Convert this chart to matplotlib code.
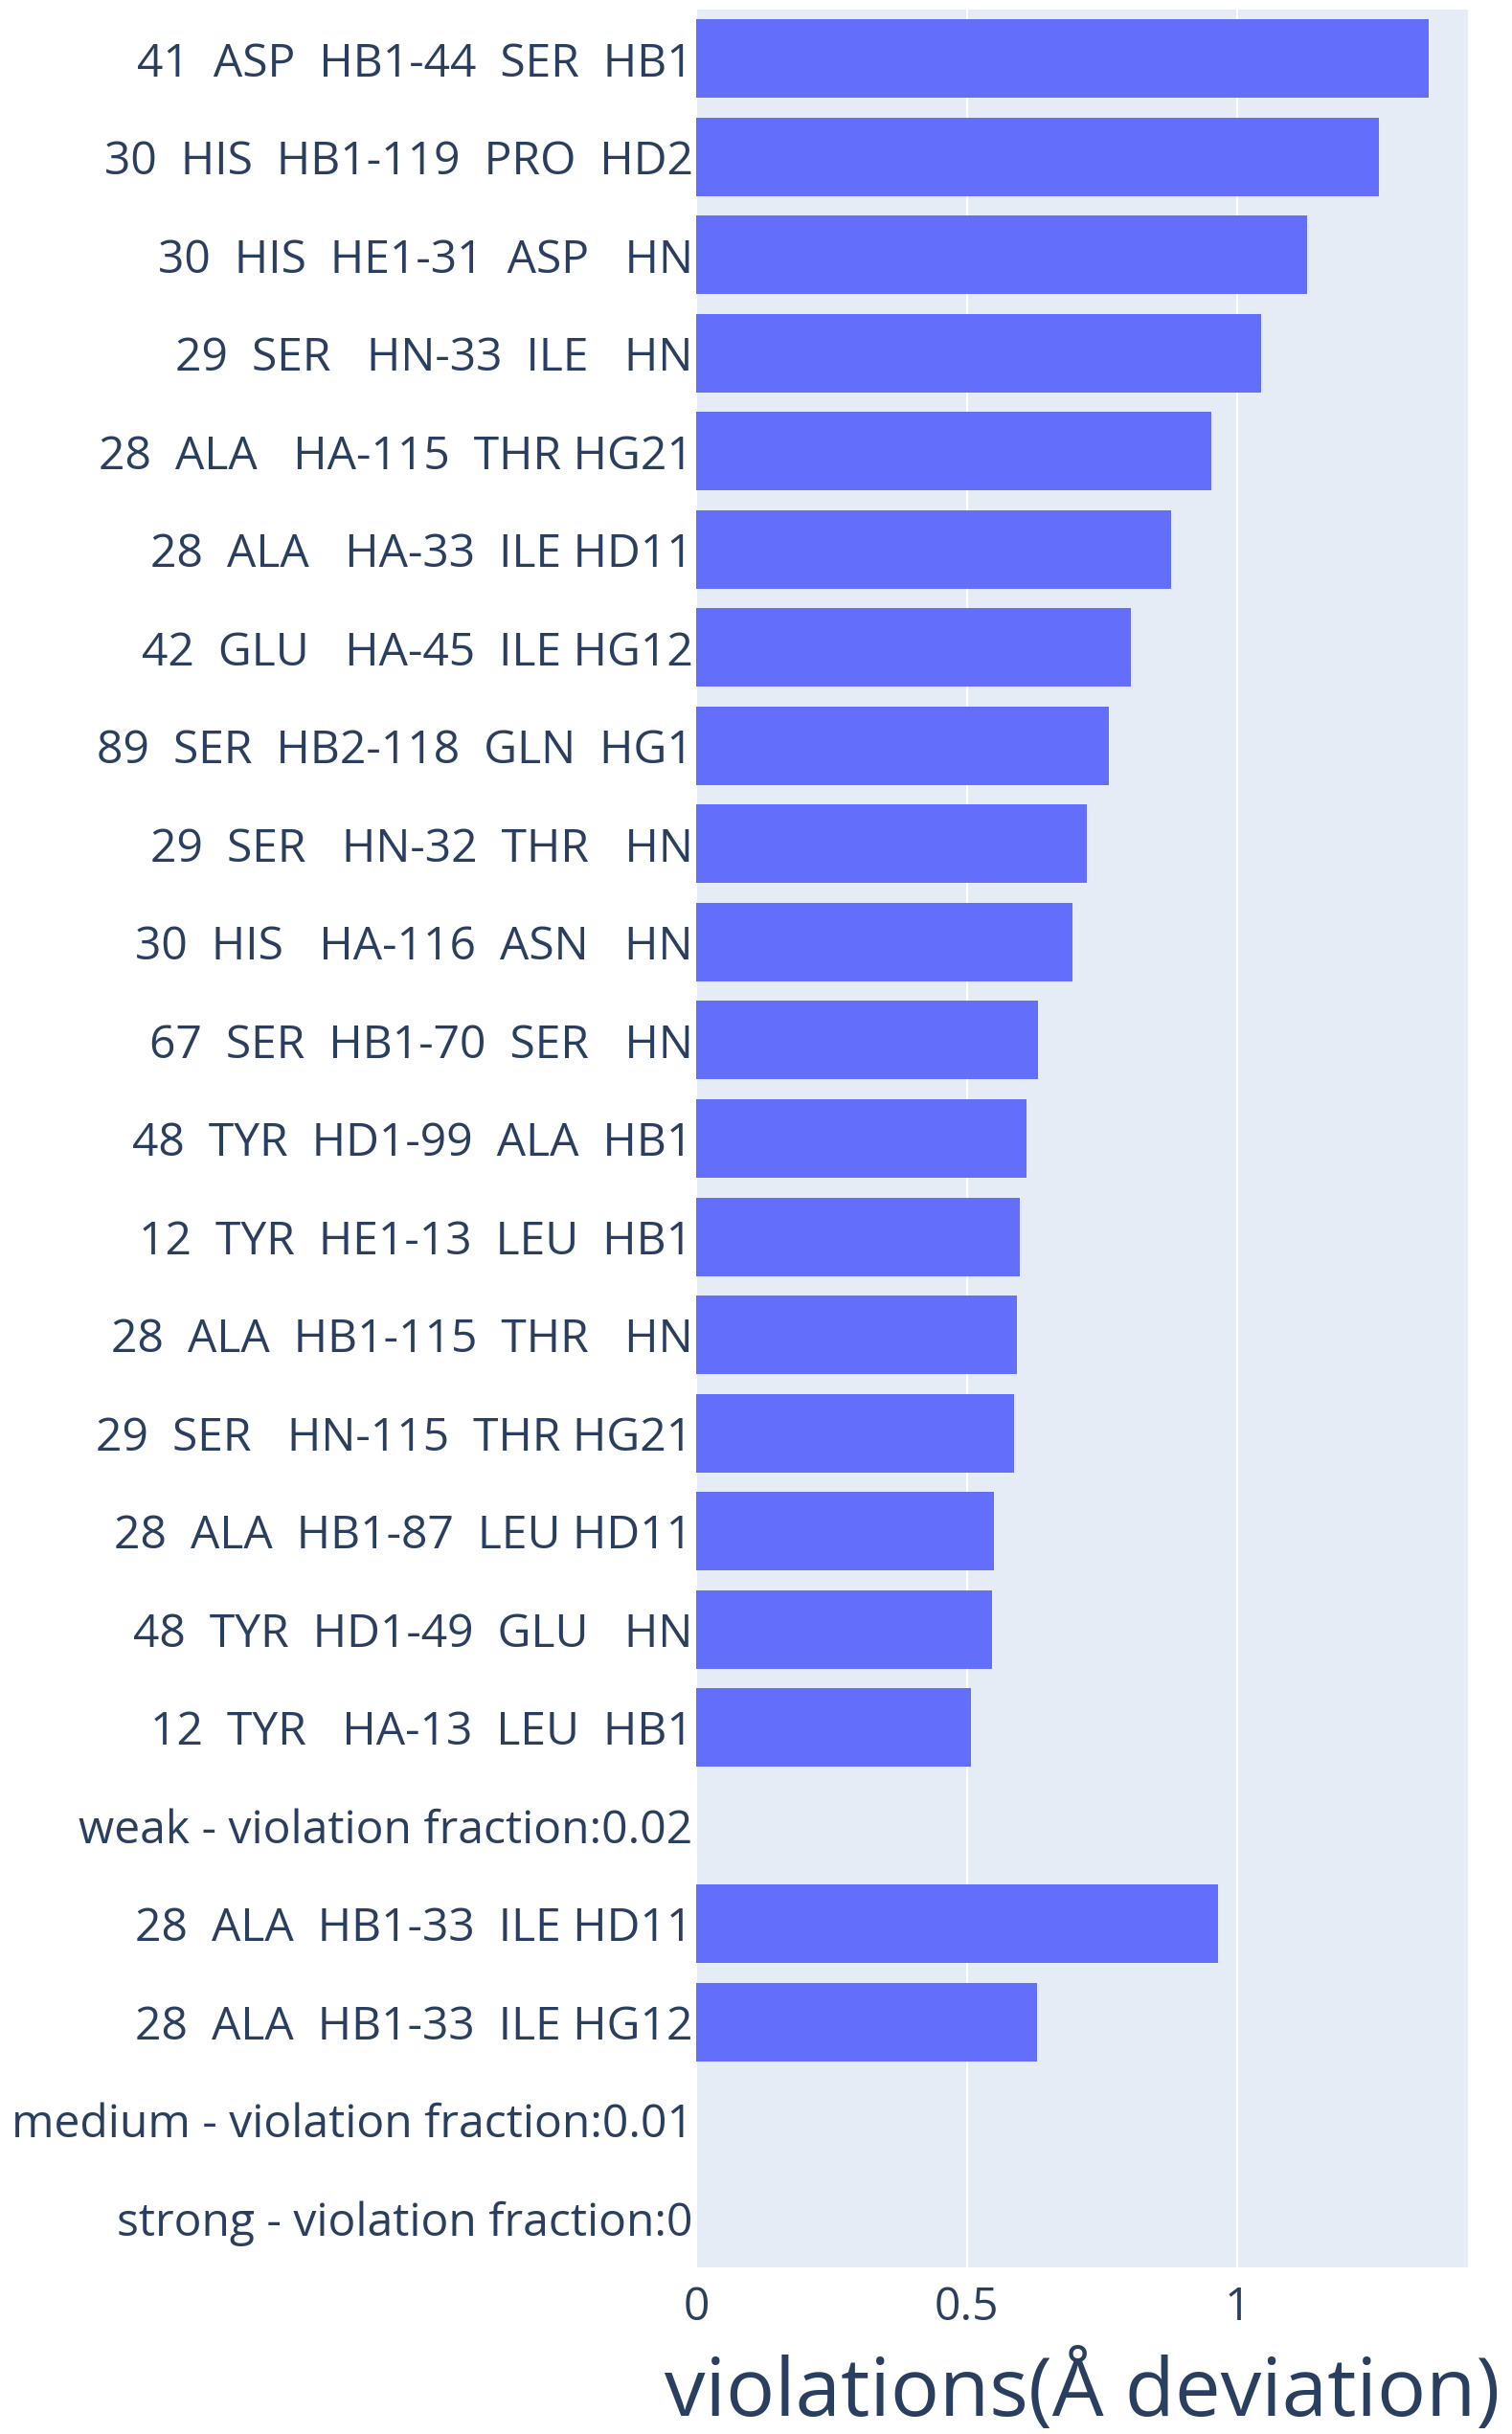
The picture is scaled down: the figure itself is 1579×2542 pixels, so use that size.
import numpy as np
import matplotlib.pyplot as plt

# 约束名称（从上到下）
labels = [
    "41  ASP  HB1-44  SER  HB1",
    "30  HIS  HB1-119  PRO  HD2",
    "30  HIS  HE1-31  ASP   HN",
    "29  SER   HN-33  ILE   HN",
    "28  ALA   HA-115  THR HG21",
    "28  ALA   HA-33  ILE HD11",
    "42  GLU   HA-45  ILE HG12",
    "89  SER  HB2-118  GLN  HG1",
    "29  SER   HN-32  THR   HN",
    "30  HIS   HA-116  ASN   HN",
    "67  SER  HB1-70  SER   HN",
    "48  TYR  HD1-99  ALA  HB1",
    "12  TYR  HE1-13  LEU  HB1",
    "28  ALA  HB1-115  THR   HN",
    "29  SER   HN-115  THR HG21",
    "28  ALA  HB1-87  LEU HD11",
    "48  TYR  HD1-49  GLU   HN",
    "12  TYR   HA-13  LEU  HB1",
    "weak - violation fraction:0.02",
    "28  ALA  HB1-33  ILE HD11",
    "28  ALA  HB1-33  ILE HG12",
    "medium - violation fraction:0.01",
    "strong - violation fraction:0",
]

# 违反量 (Å)，分组标题行没有数值
violations = [
    1.354, 1.262, 1.128, 1.044, 0.952, 0.878, 0.803, 0.762, 0.722,
    0.696, 0.631, 0.610, 0.598, 0.592, 0.588, 0.551, 0.547, 0.507,
    np.nan,
    0.965, 0.629,
    np.nan,
    np.nan,
]

xticks = [0, 0.5, 1]
xtick_labels = ["0", "0.5", "1"]

TEXT = "#2a3f5f"
BAR = "#636efa"
BG = "#e5ecf6"

plt.rcParams['font.family'] = ['Open Sans', 'DejaVu Sans']

W, H = 1579, 2542
fig = plt.figure(figsize=(W / 100, H / 100), dpi=100)
left, right, top, bottom = 727, 1533, 10, 2368
ax = fig.add_axes([left / W, 1 - bottom / H, (right - left) / W, (bottom - top) / H])

y = np.arange(len(labels))
ax.barh(y, violations, height=0.8, color=BAR, zorder=2)

ax.set_facecolor(BG)
ax.set_xlim(0, 1.426)
ax.set_ylim(len(labels) - 0.5, -0.5)
ax.set_yticks(y)
ax.set_yticklabels(labels)
ax.set_xticks(xticks)
ax.set_xticklabels(xtick_labels)
ax.grid(axis='x', color='white', linewidth=1.5, zorder=1)
ax.set_axisbelow(True)
for s in ax.spines.values():
    s.set_visible(False)
ax.tick_params(axis='both', length=0, labelsize=34.6, labelcolor=TEXT)
ax.tick_params(axis='y', pad=2.5)
ax.tick_params(axis='x', pad=13)

ax.set_xlabel("violations(Å deviation)", fontsize=61.3, color=TEXT, labelpad=16)

fig.savefig("out.png", dpi=100)
